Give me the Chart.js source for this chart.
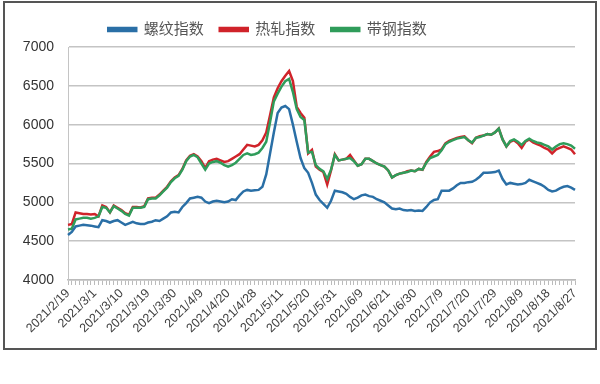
<!DOCTYPE html>
<html>
<head>
<meta charset="utf-8">
<script src="https://cdn.jsdelivr.net/npm/chart.js@4/dist/chart.umd.min.js"></script>
<style>
  body { margin: 0; background: #fff; }
  canvas { display: block; }
</style>
</head>
<body>
<canvas id="steelChart" width="600" height="384"></canvas>
<script>
// trading days, 2021/2/19 .. 2021/8/27
var dates = [
  '2021/2/19','2021/2/20','2021/2/22','2021/2/23','2021/2/24','2021/2/25','2021/2/26',
  '2021/3/1','2021/3/2','2021/3/3','2021/3/4','2021/3/5','2021/3/8','2021/3/9','2021/3/10','2021/3/11','2021/3/12',
  '2021/3/15','2021/3/16','2021/3/17','2021/3/18','2021/3/19','2021/3/22','2021/3/23','2021/3/24','2021/3/25','2021/3/26',
  '2021/3/29','2021/3/30','2021/3/31',
  '2021/4/1','2021/4/2','2021/4/6','2021/4/7','2021/4/8','2021/4/9','2021/4/12','2021/4/13','2021/4/14','2021/4/15','2021/4/16',
  '2021/4/19','2021/4/20','2021/4/21','2021/4/22','2021/4/23','2021/4/25','2021/4/26','2021/4/27','2021/4/28','2021/4/29','2021/4/30',
  '2021/5/6','2021/5/7','2021/5/8','2021/5/10','2021/5/11','2021/5/12','2021/5/13','2021/5/14','2021/5/17','2021/5/18','2021/5/19',
  '2021/5/20','2021/5/21','2021/5/24','2021/5/25','2021/5/26','2021/5/27','2021/5/28','2021/5/31',
  '2021/6/1','2021/6/2','2021/6/3','2021/6/4','2021/6/7','2021/6/8','2021/6/9','2021/6/10','2021/6/11','2021/6/15','2021/6/16',
  '2021/6/17','2021/6/18','2021/6/21','2021/6/22','2021/6/23','2021/6/24','2021/6/25','2021/6/28','2021/6/29','2021/6/30',
  '2021/7/1','2021/7/2','2021/7/5','2021/7/6','2021/7/7','2021/7/8','2021/7/9','2021/7/12','2021/7/13','2021/7/14','2021/7/15',
  '2021/7/16','2021/7/19','2021/7/20','2021/7/21','2021/7/22','2021/7/23','2021/7/26','2021/7/27','2021/7/28','2021/7/29','2021/7/30',
  '2021/8/2','2021/8/3','2021/8/4','2021/8/5','2021/8/6','2021/8/9','2021/8/10','2021/8/11','2021/8/12','2021/8/13',
  '2021/8/16','2021/8/17','2021/8/18','2021/8/19','2021/8/20','2021/8/23','2021/8/24','2021/8/25','2021/8/26','2021/8/27'
];

var tickLabels = ['2021/2/19','2021/3/1','2021/3/10','2021/3/19','2021/3/30','2021/4/9','2021/4/20','2021/4/28',
  '2021/5/11','2021/5/20','2021/5/31','2021/6/9','2021/6/21','2021/6/30','2021/7/9','2021/7/20','2021/7/29',
  '2021/8/9','2021/8/18','2021/8/27'];

var seriesNames = ['螺纹指数', '热轧指数', '带钢指数'];

// 螺纹指数
var rebar = [
  4580,4620,4690,4700,4710,4705,4700,4690,4680,4770,4760,4740,4760,4770,4740,4710,4730,4750,4730,4720,
  4720,4740,4750,4770,4760,4790,4820,4870,4880,4870,4940,4990,5050,5060,5070,5060,5010,4990,5010,5020,
  5010,5000,5010,5040,5030,5090,5140,5160,5150,5155,5160,5200,5360,5630,5900,6150,6220,6240,6200,6000,
  5780,5570,5440,5380,5250,5100,5030,4980,4930,5020,5150,5140,5130,5110,5070,5040,5060,5090,5100,5080,
  5070,5040,5020,5000,4960,4920,4910,4920,4900,4895,4900,4890,4895,4890,4940,5000,5030,5040,5150,5150,
  5150,5180,5220,5250,5250,5260,5265,5290,5330,5380,5380,5385,5390,5410,5300,5230,5250,5240,5230,5235,
  5250,5290,5270,5250,5230,5200,5160,5140,5150,5180,5200,5210,5190,5160
];

// 热轧指数
var hotRolled = [
  4710,4720,4870,4860,4850,4850,4845,4850,4820,4960,4940,4870,4960,4930,4900,4860,4840,4940,4940,4935,
  4950,5050,5060,5060,5100,5150,5200,5270,5320,5350,5430,5540,5600,5620,5590,5530,5440,5530,5550,5560,
  5540,5520,5530,5560,5590,5620,5680,5740,5730,5720,5740,5800,5900,6120,6350,6470,6560,6630,6690,6560,
  6230,6150,6090,5630,5675,5460,5420,5390,5230,5410,5620,5540,5550,5560,5610,5540,5470,5490,5560,5560,
  5530,5500,5480,5460,5410,5320,5350,5370,5380,5400,5410,5400,5430,5420,5520,5590,5650,5660,5680,5760,
  5790,5810,5830,5840,5850,5800,5760,5830,5850,5860,5880,5870,5900,5950,5810,5720,5780,5800,5760,5700,
  5780,5810,5770,5750,5730,5700,5680,5630,5680,5700,5720,5700,5680,5620
];

// 带钢指数
var strip = [
  4650,4660,4780,4790,4800,4800,4790,4800,4820,4940,4930,4870,4950,4920,4890,4850,4830,4930,4930,4930,
  4940,5040,5050,5050,5090,5140,5190,5260,5310,5340,5420,5530,5590,5610,5580,5500,5420,5500,5520,5530,
  5510,5480,5460,5480,5510,5560,5610,5630,5610,5620,5640,5700,5780,6030,6300,6400,6490,6560,6590,6420,
  6200,6100,6060,5640,5650,5480,5430,5400,5300,5420,5610,5540,5550,5560,5570,5530,5470,5490,5560,5560,
  5530,5500,5480,5460,5410,5320,5350,5370,5380,5390,5410,5400,5430,5420,5510,5570,5590,5610,5670,5750,
  5780,5800,5820,5830,5840,5800,5770,5830,5840,5860,5880,5870,5900,5950,5810,5720,5790,5810,5780,5740,
  5790,5820,5790,5770,5760,5740,5720,5680,5720,5750,5760,5750,5730,5690
];

var colors = ['#2a6fa6', '#d0232a', '#2f9c5a'];

var fontFamily = '"Liberation Sans", "Noto Sans CJK SC", sans-serif';

// white page + dark outer frame, legend nudged left like the original
var framePlugin = {
  id: 'frame',
  afterLayout: function(chart) {
    chart.legend.left -= 20;
    chart.legend.right -= 20;
  },
  beforeDraw: function(chart) {
    var ctx = chart.ctx;
    ctx.save();
    ctx.fillStyle = '#fff';
    ctx.fillRect(0, 0, chart.width, chart.height);
    ctx.strokeStyle = '#555';
    ctx.lineWidth = 2;
    ctx.strokeRect(4, 2, 592, 347);
    ctx.restore();
  }
};

function makeSet(i, values, order) {
  return {
    label: seriesNames[i],
    data: values,
    borderColor: colors[i],
    backgroundColor: colors[i],
    borderWidth: 2.5,
    pointRadius: 0,
    tension: 0,
    order: order
  };
}

var ctx = document.getElementById('steelChart').getContext('2d');
var steelChart = new Chart(ctx, {
  type: 'line',
  data: {
    labels: dates,
    datasets: [makeSet(0, rebar, 0), makeSet(1, hotRolled, 2), makeSet(2, strip, 1)]
  },
  options: {
    responsive: false,
    animation: false,
    devicePixelRatio: 1,
    layout: { padding: { top: 6, right: 25, bottom: 0, left: 0 } },
    plugins: {
      tooltip: { enabled: false },
      legend: {
        position: 'top',
        labels: {
          boxWidth: 28,
          boxHeight: 3,
          padding: 16,
          color: '#555',
          font: { family: fontFamily, size: 15 },
          sort: function(a, b) { return a.datasetIndex - b.datasetIndex; }
        }
      }
    },
    scales: {
      x: {
        offset: false,
        grid: { drawOnChartArea: false, drawTicks: true, tickLength: 5, color: '#bbb' },
        border: { display: true, color: '#bbb', width: 1.5 },
        ticks: {
          autoSkip: false,
          minRotation: 45,
          maxRotation: 45,
          padding: 1,
          color: '#404040',
          font: { family: fontFamily, size: 12.5 },
          callback: function(val, i) {
            return tickLabels.indexOf(dates[i]) >= 0 ? dates[i] : '';
          }
        },
        afterFit: function(scale) { scale.height = 104; }
      },
      y: {
        min: 4000,
        max: 7000,
        grid: { color: '#c4c4c4', lineWidth: 1.5, drawTicks: false },
        border: { display: true, color: '#c4c4c4' },
        ticks: {
          stepSize: 500,
          padding: 14,
          color: '#333',
          font: { family: fontFamily, size: 14 },
          callback: function(val) { return String(val); }
        },
        afterFit: function(scale) { scale.width = 68; }
      }
    }
  },
  plugins: [framePlugin]
});
</script>
</body>
</html>
